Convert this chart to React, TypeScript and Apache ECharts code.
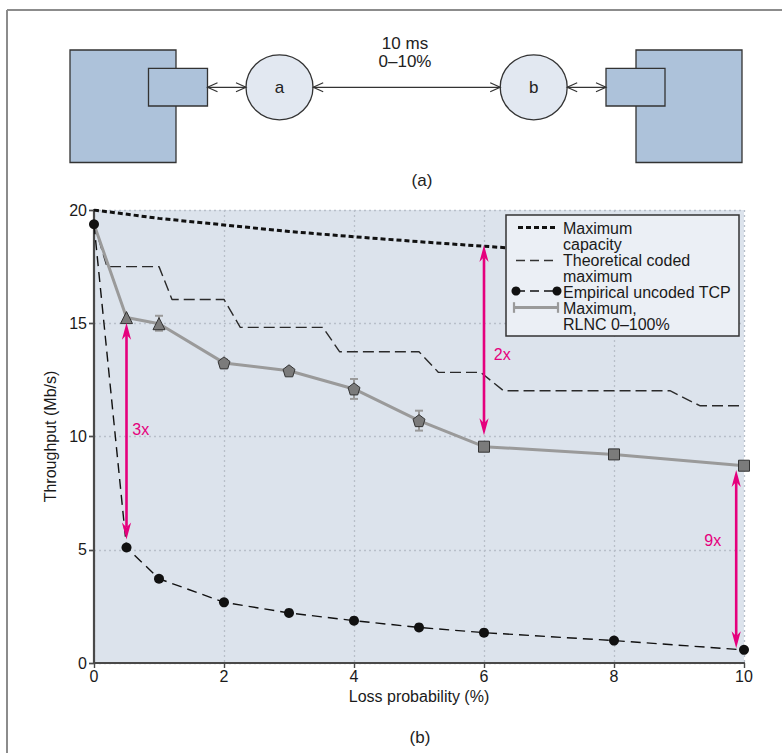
import React, { useEffect, useRef } from "react";
import * as echarts from "echarts";

// ---------- data ----------
const lossX = [0, 0.5, 1, 2, 3, 4, 5, 6, 8, 10];
const tcpY = [19.37, 5.1, 3.72, 2.68, 2.21, 1.87, 1.57, 1.34, 0.99, 0.58];
const rlncY = [19.37, 15.25, 14.98, 13.25, 12.9, 12.1, 10.7, 9.55, 9.21, 8.71];
const rlncShape = ["none", "triangle", "triangle", "pentagon", "pentagon", "pentagon", "pentagon", "square", "square", "square"];

const errX = [1, 2, 3, 4, 5];
const errLow = [14.67, 13.1, 12.78, 11.66, 10.26];
const errHigh = [15.33, 13.4, 13.02, 12.54, 11.14];

const capX = [0, 1, 2, 3, 4, 5, 6, 7, 8, 9];
const capY = [20, 19.63, 19.34, 19.05, 18.82, 18.6, 18.4, 18.2, 18.0, 17.8];

const theoX = [0, 0.2, 1.0, 1.2, 2.0, 2.25, 3.52, 3.78, 5.0, 5.3, 5.95, 6.3, 8.86, 9.32, 10];
const theoY = [19.4, 17.5, 17.5, 16.05, 16.05, 14.82, 14.82, 13.74, 13.74, 12.83, 12.83, 12.02, 12.02, 11.36, 11.36];

const arrowX = [0.5, 6, 9.88];
const arrowFrom = [5.45, 10.05, 0.65];
const arrowTo = [15.02, 18.45, 8.52];
const arrowLabel = ["3x", "2x", "9x"];
const arrowLabelX = [0.72, 6.28, 9.52];
const arrowLabelY = [10.3, 13.6, 5.4];

const xTicks = [0, 2, 4, 6, 8, 10];
const yTicks = [0, 5, 10, 15, 20];

const legendLabels = [
  "Maximum\ncapacity",
  "Theoretical coded\nmaximum",
  "Empirical uncoded TCP",
  "Maximum,\nRLNC 0\u2013100%",
];

// ---------- styles ----------
const FONT = '"Liberation Sans", Arial, sans-serif';
const MAGENTA = "#e5007d";
const AXIS = "#4a4a4a";
const PENTAGON = "path://M0,-10 L9.51,-3.09 L5.88,8.09 L-5.88,8.09 L-9.51,-3.09 Z";
const symbolMap: Record<string, string> = { triangle: "triangle", pentagon: PENTAGON, square: "rect", none: "none" };
const symbolSizeMap: Record<string, number> = { triangle: 12, pentagon: 12, square: 11, none: 0 };

function chevron(x: number, y: number, dir: number) {
  return {
    type: "polyline",
    shape: { points: [[x - dir * 10, y - 4.5], [x, y], [x - dir * 10, y + 4.5]] },
    style: { stroke: "#333", lineWidth: 1.2, fill: null },
  };
}

function dblArrow(x1: number, x2: number, y: number) {
  return [
    { type: "line", shape: { x1, y1: y, x2, y2: y }, style: { stroke: "#333", lineWidth: 1.2 } },
    chevron(x1, y, -1),
    chevron(x2, y, 1),
  ];
}

export default function App() {
  const ref = useRef<HTMLDivElement>(null);
  useEffect(() => {
    document.body.style.margin = "0";
    if (!ref.current) return;
    const chart = echarts.init(ref.current, undefined, { renderer: "svg" });

    const boxFill = "#adc2da";
    const boxStroke = "#333";
    const circFill = "#e2e8f1";
    const lineY = 87.3;

    const diagram: any[] = [
      { type: "line", shape: { x1: 7, y1: 10, x2: 782, y2: 10 }, style: { stroke: "#8c8c8c", lineWidth: 2 } },
      { type: "line", shape: { x1: 7, y1: 10, x2: 7, y2: 753 }, style: { stroke: "#8c8c8c", lineWidth: 2 } },
      { type: "rect", shape: { x: 70, y: 50, width: 106, height: 112.5 }, style: { fill: boxFill, stroke: boxStroke, lineWidth: 1.3 } },
      { type: "rect", shape: { x: 148.5, y: 68.3, width: 59, height: 37.7 }, style: { fill: boxFill, stroke: boxStroke, lineWidth: 1.3 } },
      { type: "rect", shape: { x: 636, y: 50, width: 106, height: 112.5 }, style: { fill: boxFill, stroke: boxStroke, lineWidth: 1.3 } },
      { type: "rect", shape: { x: 606, y: 68.3, width: 59, height: 37.7 }, style: { fill: boxFill, stroke: boxStroke, lineWidth: 1.3 } },
      { type: "ellipse", shape: { cx: 279.5, cy: lineY, rx: 33.5, ry: 32.5 }, style: { fill: circFill, stroke: boxStroke, lineWidth: 1.3 } },
      { type: "ellipse", shape: { cx: 533.7, cy: lineY, rx: 33.5, ry: 32.5 }, style: { fill: circFill, stroke: boxStroke, lineWidth: 1.3 } },
      { type: "text", x: 279.5, y: lineY, style: { text: "a", font: `17px ${FONT}`, fill: "#222", align: "center", verticalAlign: "middle" } },
      { type: "text", x: 533.7, y: lineY, style: { text: "b", font: `17px ${FONT}`, fill: "#222", align: "center", verticalAlign: "middle" } },
      ...dblArrow(207.5, 246, lineY),
      ...dblArrow(313.2, 500.2, lineY),
      ...dblArrow(567.2, 606, lineY),
      { type: "text", x: 405, y: 43.3, style: { text: "10 ms", font: `17px ${FONT}`, fill: "#222", align: "center", verticalAlign: "middle" } },
      { type: "text", x: 405, y: 61.7, style: { text: "0\u201310%", font: `17px ${FONT}`, fill: "#222", align: "center", verticalAlign: "middle" } },
      { type: "text", x: 422, y: 180, style: { text: "(a)", font: `17px ${FONT}`, fill: "#222", align: "center", verticalAlign: "middle" } },
      { type: "text", x: 420, y: 737, style: { text: "(b)", font: `17px ${FONT}`, fill: "#222", align: "center", verticalAlign: "middle" } },
    ];

    const lx = 506, ly = 215;
    const legend: any[] = [
      { type: "rect", z: 100, shape: { x: lx, y: ly, width: 233, height: 121 }, style: { fill: "#ebeff5", stroke: "#333", lineWidth: 1.5 } },
      { type: "line", z: 101, shape: { x1: 518, y1: 227.5, x2: 557, y2: 227.5 }, style: { stroke: "#111", lineWidth: 3, lineDash: [5, 3] } },
      { type: "line", z: 101, shape: { x1: 516, y1: 260.5, x2: 557, y2: 260.5 }, style: { stroke: "#333", lineWidth: 1.4, lineDash: [9, 5] } },
      { type: "line", z: 101, shape: { x1: 516, y1: 291, x2: 557, y2: 291 }, style: { stroke: "#111", lineWidth: 1.4, lineDash: [9, 5] } },
      { type: "circle", z: 102, shape: { cx: 516, cy: 291, r: 4.5 }, style: { fill: "#111" } },
      { type: "circle", z: 102, shape: { cx: 557, cy: 291, r: 4.5 }, style: { fill: "#111" } },
      { type: "line", z: 101, shape: { x1: 514, y1: 307.5, x2: 558, y2: 307.5 }, style: { stroke: "#9a9a9a", lineWidth: 3 } },
      { type: "line", z: 101, shape: { x1: 514, y1: 302.2, x2: 514, y2: 312.8 }, style: { stroke: "#9a9a9a", lineWidth: 2.2 } },
      { type: "line", z: 101, shape: { x1: 558, y1: 302.2, x2: 558, y2: 312.8 }, style: { stroke: "#9a9a9a", lineWidth: 2.2 } },
      {
        type: "text", x: 563, y: 220, z: 101,
        style: { text: legendLabels.join("\n"), font: `16px ${FONT}`, lineHeight: 16, fill: "#1a1a1a", align: "left", verticalAlign: "top" },
      },
    ];

    const axisCommon = { min: 0, type: "value" as const };

    const option: any = {
      animation: false,
      textStyle: { fontFamily: FONT },
      grid: {
        left: 94, right: 38, top: 210, bottom: 90,
        show: true, backgroundColor: "#dce3ec", borderWidth: 0,
      },
      xAxis: [
        {
          ...axisCommon, max: 10, interval: 2, position: "bottom",
          name: "Loss probability (%)", nameLocation: "middle", nameGap: 24,
          nameTextStyle: { fontSize: 16, color: "#1a1a1a", fontFamily: FONT },
          axisLine: { lineStyle: { color: AXIS, width: 2.2 } },
          axisTick: { show: false },
          axisLabel: { fontSize: 16, color: "#1a1a1a", margin: 5, fontFamily: FONT, formatter: (v: number) => (xTicks.includes(v) ? String(v) : "") },
          splitLine: { show: true, lineStyle: { color: "#b8bfc9", type: [2, 3], width: 1.3 } },
        },
        {
          ...axisCommon, max: 10, interval: 2, position: "top",
          axisLine: { show: true, lineStyle: { color: AXIS, width: 1.6 } },
          axisTick: { show: true, inside: true, length: 5, lineStyle: { color: AXIS, width: 1.4 } },
          axisLabel: { show: false },
          splitLine: { show: false },
        },
      ],
      yAxis: [
        {
          ...axisCommon, max: 20, interval: 5, position: "left",
          name: "Throughput (Mb/s)", nameLocation: "middle", nameGap: 30,
          nameTextStyle: { fontSize: 16, color: "#1a1a1a", fontFamily: FONT },
          axisLine: { show: true, lineStyle: { color: AXIS, width: 2.2 } },
          axisTick: { show: true, length: 5, lineStyle: { color: AXIS, width: 1.4 } },
          axisLabel: { fontSize: 16, color: "#1a1a1a", margin: 7, fontFamily: FONT, formatter: (v: number) => (yTicks.includes(v) ? String(v) : "") },
          splitLine: { show: true, lineStyle: { color: "#b8bfc9", type: [2, 3], width: 1.3 } },
        },
        {
          ...axisCommon, max: 20, interval: 5, position: "right",
          axisLine: { show: true, lineStyle: { color: AXIS, width: 1.6 } },
          axisTick: { show: true, inside: true, length: 5, lineStyle: { color: AXIS, width: 1.4 } },
          axisLabel: { show: false },
          splitLine: { show: false },
        },
      ],
      graphic: { elements: [...diagram, ...legend] },
      series: [
        {
          name: "Maximum capacity", type: "line", z: 2, symbol: "none",
          data: capX.map((x, i) => [x, capY[i]]),
          lineStyle: { color: "#111", width: 3, type: [5, 3] },
        },
        {
          name: "Theoretical coded maximum", type: "line", z: 2, symbol: "none",
          data: theoX.map((x, i) => [x, theoY[i]]),
          lineStyle: { color: "#2a2a2a", width: 1.4, type: [11, 5] },
        },
        {
          name: "Error bars", type: "custom", z: 3,
          data: errX.map((x, i) => [x, errLow[i], errHigh[i]]),
          encode: { x: 0, y: [1, 2] },
          renderItem: (params: any, api: any) => {
            const x = api.value(0);
            const lo = api.coord([x, api.value(1)]);
            const hi = api.coord([x, api.value(2)]);
            const s = { stroke: "#9a9a9a", lineWidth: 2 };
            return {
              type: "group",
              children: [
                { type: "line", shape: { x1: lo[0], y1: lo[1], x2: hi[0], y2: hi[1] }, style: s },
                { type: "line", shape: { x1: lo[0] - 4, y1: lo[1], x2: lo[0] + 4, y2: lo[1] }, style: s },
                { type: "line", shape: { x1: hi[0] - 4, y1: hi[1], x2: hi[0] + 4, y2: hi[1] }, style: s },
              ],
            };
          },
        },
        {
          name: "Maximum, RLNC 0\u2013100%", type: "line", z: 4,
          data: lossX.map((x, i) => ({
            value: [x, rlncY[i]],
            symbol: symbolMap[rlncShape[i]],
            symbolSize: symbolSizeMap[rlncShape[i]],
          })),
          lineStyle: { color: "#9a9a9a", width: 3 },
          itemStyle: { color: "#7b7b7b", borderColor: "#333", borderWidth: 1 },
        },
        {
          name: "Empirical uncoded TCP", type: "line", z: 5,
          data: lossX.map((x, i) => [x, tcpY[i]]),
          symbol: "circle", symbolSize: 10,
          lineStyle: { color: "#111", width: 1.4, type: [10, 6] },
          itemStyle: { color: "#111" },
        },
        {
          name: "Gain arrows", type: "custom", z: 6,
          data: arrowX.map((x, i) => [x, arrowFrom[i], arrowTo[i], arrowLabelX[i], arrowLabelY[i]]),
          encode: { x: 0, y: [1, 2] },
          renderItem: (params: any, api: any) => {
            const x = api.value(0);
            const p0 = api.coord([x, api.value(1)]);
            const p1 = api.coord([x, api.value(2)]);
            const lp = api.coord([api.value(3), api.value(4)]);
            const L = 17, W = 4.6, N = 5;
            return {
              type: "group",
              children: [
                { type: "line", shape: { x1: p0[0], y1: p0[1] - L + N, x2: p1[0], y2: p1[1] + L - N }, style: { stroke: MAGENTA, lineWidth: 2.6 } },
                { type: "polygon", shape: { points: [[p1[0], p1[1]], [p1[0] - W, p1[1] + L], [p1[0], p1[1] + L - N], [p1[0] + W, p1[1] + L]] }, style: { fill: MAGENTA } },
                { type: "polygon", shape: { points: [[p0[0], p0[1]], [p0[0] - W, p0[1] - L], [p0[0], p0[1] - L + N], [p0[0] + W, p0[1] - L]] }, style: { fill: MAGENTA } },
                { type: "text", x: lp[0], y: lp[1], style: { text: arrowLabel[params.dataIndex], fill: MAGENTA, font: `16px ${FONT}`, align: "center", verticalAlign: "middle" } },
              ],
            };
          },
        },
      ],
    };
    chart.setOption(option);
    return () => chart.dispose();
  }, []);
  return <div ref={ref} style={{ width: 782, height: 753 }} />;
}
